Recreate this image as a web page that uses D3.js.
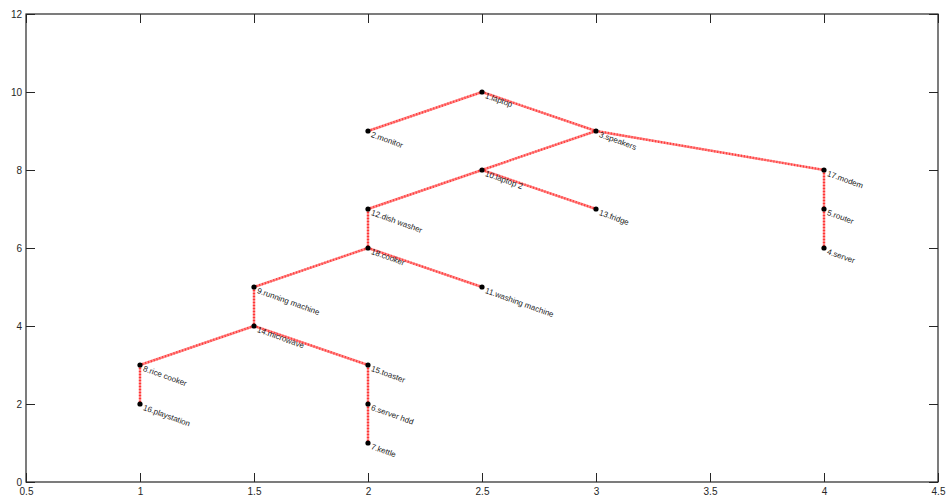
<!DOCTYPE html>
<html>
<head>
<meta charset="utf-8">
<script src="https://cdn.jsdelivr.net/npm/d3@7"></script>
<style>
  html, body { margin: 0; padding: 0; background: #fff; }
  svg { display: block; }
  text { font-family: "Liberation Sans", Arial, Helvetica, sans-serif; }
</style>
</head>
<body>
<svg id="chart" width="946" height="501"></svg>
<script>
// Device tree: node names, positions, and parent links
const nodeNames = ["1.laptop", "2.monitor", "3.speakers", "4.server", "5.router", "6.server hdd",
  "7.kettle", "8.rice cooker", "9.running machine", "10.laptop 2", "11.washing machine",
  "12.dish washer", "13.fridge", "14.microwave", "15.toaster", "16.playstation", "17.modem", "18.cooker"];
const nodeX = [2.5, 2, 3, 4, 4, 2, 2, 1, 1.5, 2.5, 2.5, 2, 3, 1.5, 2, 1, 4, 2];
const nodeY = [10, 9, 9, 6, 7, 2, 1, 3, 5, 8, 5, 7, 7, 4, 3, 2, 8, 6];
const edgeFrom = [2, 1, 3, 17, 5, 3, 10, 10, 12, 18, 18, 9, 14, 8, 14, 15, 6];
const edgeTo   = [1, 3, 17, 5, 4, 10, 13, 12, 18, 11, 9, 14, 8, 16, 15, 6, 7];

const xTicks = [0.5, 1, 1.5, 2, 2.5, 3, 3.5, 4, 4.5];
const yTicks = [0, 2, 4, 6, 8, 10, 12];

const svg = d3.select("#chart");
const plotLeft = 26, plotRight = 938, plotTop = 14, plotBottom = 482;

const x = d3.scaleLinear().domain([0.5, 4.5]).range([plotLeft, plotRight]);
const y = d3.scaleLinear().domain([0, 12]).range([plotBottom, plotTop]);
const axisColor = "#262626";

// Frame with inward ticks on all four sides
const tickLen = 9;
function styleAxis(g) {
  g.select(".domain").remove();
  g.selectAll(".tick line").attr("stroke", axisColor);
  g.selectAll(".tick text").attr("fill", axisColor).attr("font-size", 10)
    .attr("font-family", "Liberation Sans, Arial, sans-serif");
}
const fmt = d => String(d);
svg.append("g").attr("transform", `translate(0,${plotBottom})`)
  .call(d3.axisBottom(x).tickValues(xTicks).tickFormat(fmt).tickSizeInner(-tickLen).tickSizeOuter(0).tickPadding(6))
  .call(styleAxis);
svg.append("g").attr("transform", `translate(0,${plotTop})`)
  .call(d3.axisTop(x).tickValues(xTicks).tickFormat("").tickSizeInner(-tickLen).tickSizeOuter(0))
  .call(styleAxis);
svg.append("g").attr("transform", `translate(${plotLeft},0)`)
  .call(d3.axisLeft(y).tickValues(yTicks).tickFormat(fmt).tickSizeInner(-tickLen).tickSizeOuter(0).tickPadding(4))
  .call(styleAxis);
svg.append("g").attr("transform", `translate(${plotRight},0)`)
  .call(d3.axisRight(y).tickValues(yTicks).tickFormat("").tickSizeInner(-tickLen).tickSizeOuter(0))
  .call(styleAxis);
svg.append("rect").attr("x", plotLeft).attr("y", plotTop)
  .attr("width", plotRight - plotLeft).attr("height", plotBottom - plotTop)
  .attr("fill", "none").attr("stroke", axisColor).attr("stroke-width", 1.2);

// Links: translucent red band with denser red dots along it
const edges = edgeFrom.map((f, i) => [f - 1, edgeTo[i] - 1]);
function drawLinks(stroke, opacity, dash) {
  svg.append("g").selectAll("line").data(edges).join("line")
    .attr("x1", d => x(nodeX[d[0]])).attr("y1", d => y(nodeY[d[0]]))
    .attr("x2", d => x(nodeX[d[1]])).attr("y2", d => y(nodeY[d[1]]))
    .attr("stroke", stroke).attr("stroke-opacity", opacity)
    .attr("stroke-width", 2.4).attr("stroke-dasharray", dash);
}
drawLinks("#ff2020", 0.55, null);
drawLinks("#ff0000", 0.6, "1,2");

// Nodes
const idx = d3.range(nodeNames.length);
svg.append("g").selectAll("circle").data(idx).join("circle")
  .attr("cx", i => x(nodeX[i])).attr("cy", i => y(nodeY[i]))
  .attr("r", 2.6).attr("fill", "#000");

// Rotated node labels
svg.append("g").selectAll("text").data(idx).join("text")
  .attr("transform", i => `translate(${x(nodeX[i]) + 3.5},${y(nodeY[i]) + 3}) rotate(20)`)
  .attr("font-size", 8).attr("fill", "#222")
  .attr("dy", "0.35em")
  .text(i => nodeNames[i]);
</script>
</body>
</html>
